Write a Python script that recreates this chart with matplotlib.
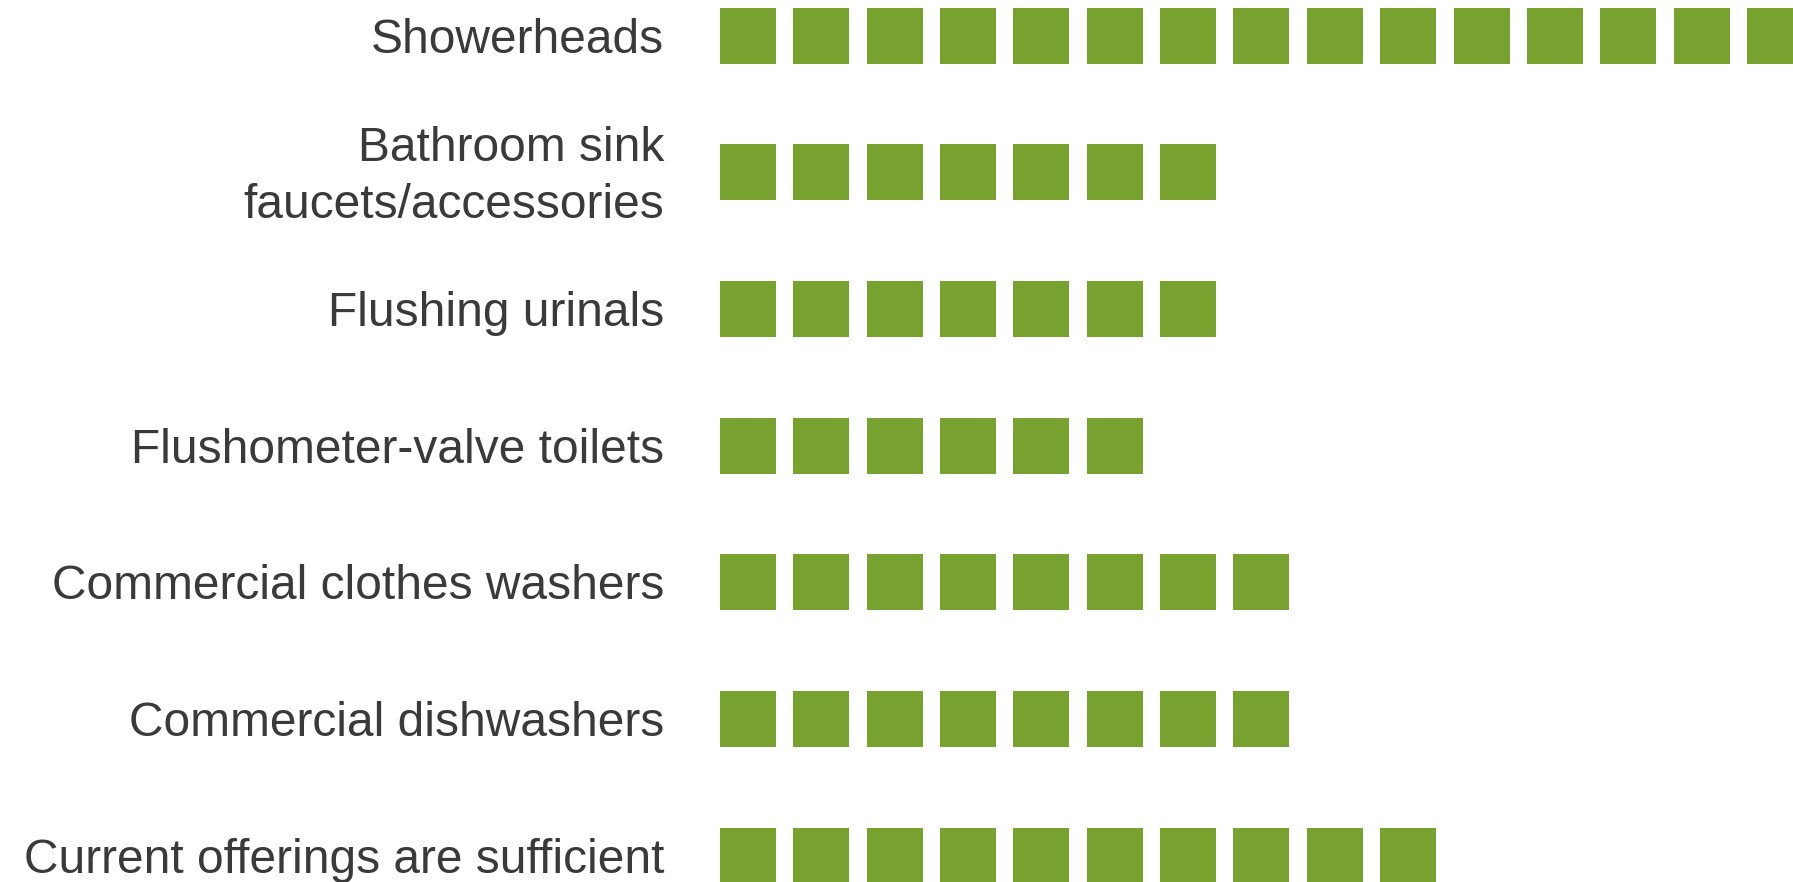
import numpy as np
import matplotlib

matplotlib.use('Agg')
import matplotlib.pyplot as plt

plt.rcParams['font.family'] = ['Liberation Sans', 'DejaVu Sans']

# data
categories = [
    "Showerheads",
    "Bathroom sink\nfaucets/accessories",
    "Flushing urinals",
    "Flushometer-valve toilets",
    "Commercial clothes washers",
    "Commercial dishwashers",
    "Current offerings are sufficient",
]
counts = [15, 7, 7, 6, 8, 8, 10]

GREEN = "#78a22f"
TEXT = "#3a3a3a"

# layout in pixels (figure is 1793 x 882)
W, H = 1793, 882
x0, pitch_x, sq = 720, 73.35, 56
y0, pitch_y = 35.5, 136.67

fig = plt.figure(figsize=(W / 100, H / 100), dpi=100)
ax = fig.add_axes([0, 0, 1, 1])
ax.axis('off')

for r, (name, n) in enumerate(zip(categories, counts)):
    idx = np.arange(n)
    ax.barh(np.full(n, r), np.full(n, sq / pitch_x), left=idx,
            height=sq / pitch_y, color=GREEN, linewidth=0)
    ax.text((664 - x0) / pitch_x, r + 0.035, name, ha='right', va='center',
            fontsize=34.5, color=TEXT, linespacing=1.35)

ax.set_xlim(-x0 / pitch_x, (W - x0) / pitch_x)
ax.set_ylim((H - y0) / pitch_y, -y0 / pitch_y)

plt.savefig("out.png", dpi=100)
